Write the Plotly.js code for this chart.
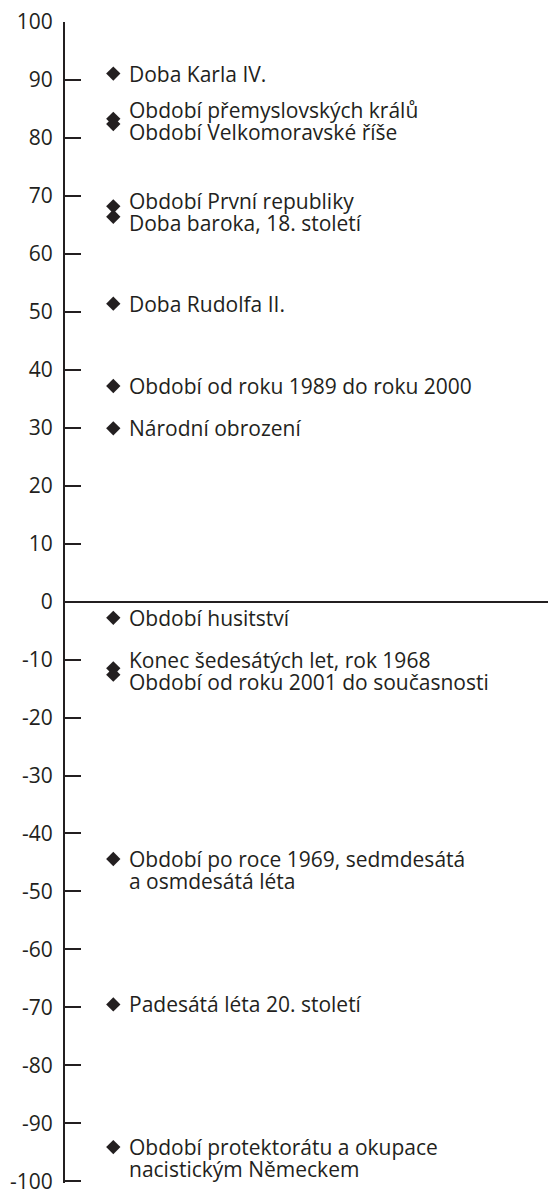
<!DOCTYPE html>
<html>
<head>
<meta charset="utf-8">
<script src="https://cdn.plot.ly/plotly-3.0.1.min.js"></script>
<style>
  html, body { margin: 0; padding: 0; background: #fff; }
  #chart { width: 548px; height: 1193px; }
</style>
</head>
<body>
<div id="chart"></div>
<script>
// ---- data ----
const periods = [
  "Doba Karla IV.",
  "Období přemyslovských králů",
  "Období Velkomoravské říše",
  "Období První republiky",
  "Doba baroka, 18. století",
  "Doba Rudolfa II.",
  "Období od roku 1989 do roku 2000",
  "Národní obrození",
  "Období husitství",
  "Konec šedesátých let, rok 1968",
  "Období od roku 2001 do současnosti",
  "Období po roce 1969, sedmdesátá<br>a osmdesátá léta",
  "Padesátá léta 20. století",
  "Období protektorátu a okupace<br>nacistickým Německem"
];
const scores = [91.1, 83.3, 82.4, 68.2, 66.4, 51.4, 37.2, 29.9, -2.8, -11.5, -12.6, -44.4, -69.5, -94.1];
const tickValues = [100, 90, 80, 70, 60, 50, 40, 30, 20, 10, 0, -10, -20, -30, -40, -50, -60, -70, -80, -90, -100];
const tickLabels = ["100", "90", "80", "70", "60", "50", "40", "30", "20", "10", "0", "-10", "-20", "-30", "-40", "-50", "-60", "-70", "-80", "-90", "-100"];

// ---- styling ----
const INK = '#231f20';
const FONT = 'Open Sans, sans-serif';
const FS = 21;
const LINE = 22;
const XPOS = 0.1;

const xs = scores.map(() => XPOS);

const trace = {
  type: 'scatter',
  mode: 'markers',
  x: xs,
  y: scores,
  marker: { symbol: 'diamond', size: 11, color: INK, line: { width: 0 } },
  hoverinfo: 'skip',
  cliponaxis: false
};

// group points that lie very close to each other so their labels stack
const groups = [];
scores.forEach((v, i) => {
  const last = groups[groups.length - 1];
  if (last && Math.abs(scores[last[last.length - 1]] - v) < 3) last.push(i);
  else groups.push([i]);
});

const annotations = [];
groups.forEach(g => {
  const yMean = g.reduce((s, i) => s + scores[i], 0) / g.length;
  const lines = [];
  g.forEach(i => periods[i].split('<br>').forEach(t => lines.push(t)));
  lines.forEach((t, k) => {
    const off = g.length > 1 ? (k - (lines.length - 1) / 2) * LINE : k * LINE;
    annotations.push({
      x: XPOS, y: yMean, xref: 'x', yref: 'y',
      text: t, showarrow: false,
      xanchor: 'left', yanchor: 'middle',
      xshift: 14, yshift: -off,
      font: { family: FONT, size: FS, color: INK }
    });
  });
});

const layout = {
  width: 548,
  height: 1193,
  margin: { l: 65, r: 0, t: 22, b: 10, pad: 0 },
  paper_bgcolor: '#fff',
  plot_bgcolor: '#fff',
  showlegend: false,
  xaxis: { range: [0, 1], visible: false, fixedrange: true },
  yaxis: {
    range: [-100.3, 100],
    tickmode: 'array',
    tickvals: tickValues,
    ticktext: tickLabels,
    ticks: 'inside',
    ticklen: 16,
    tickwidth: 2,
    tickcolor: INK,
    showline: true,
    linecolor: INK,
    linewidth: 2,
    showgrid: false,
    zeroline: true,
    zerolinecolor: INK,
    zerolinewidth: 2,
    ticklabelstandoff: 6,
    ticklabeloverflow: 'allow',
    tickfont: { family: FONT, size: FS, color: INK },
    fixedrange: true
  },
  annotations: annotations
};

Plotly.newPlot('chart', [trace], layout, { displayModeBar: false, staticPlot: true });
</script>
</body>
</html>
